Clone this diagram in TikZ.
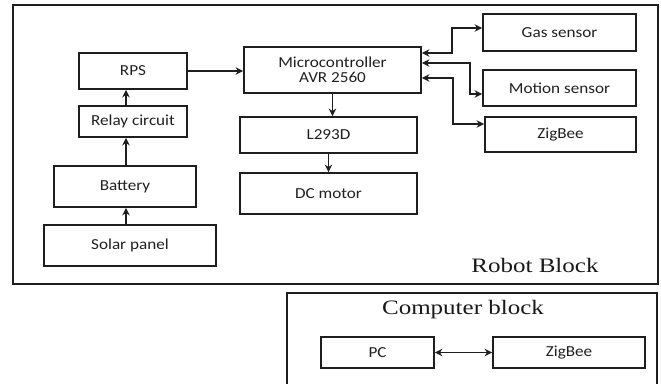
\documentclass[tikz,border=0pt]{standalone}
\usepackage{fontspec}
\usetikzlibrary{arrows.meta}
\newfontfamily\calib{Carlito}[FakeStretch=1.12]
\newfontfamily\tms{Liberation Serif}[FakeStretch=1.22]
\definecolor{ln}{HTML}{1E1E1E}
\definecolor{tx}{HTML}{202020}
\tikzset{
  blk/.style={draw=ln, line width=1.8pt, rectangle, inner sep=0pt, align=center,
    text=tx, font=\calib\fontsize{15.3}{16}\selectfont},
  frame/.style={draw=ln, line width=1.9pt},
  arr/.style={draw=ln, line width=1.8pt, -{Stealth[length=7.5pt,width=7.5pt]}},
  darr/.style={draw=ln, line width=1.8pt, {Stealth[length=7.5pt,width=7.5pt]}-{Stealth[length=7.5pt,width=7.5pt]}},
  title/.style={text=black!90, font=\tms\fontsize{20.5}{22}\selectfont, inner sep=0pt}
}
\begin{document}
\begin{tikzpicture}[x=1pt,y=-1pt]
\useasboundingbox (0,0) rectangle (661,383);
\clip (0,0) rectangle (661,383);
% frames
\draw[frame] (13,5) rectangle (658,284);
\draw[frame] (287,293) rectangle (657,400);
\node[title] (robot) at (535,265) {Robot Block};
\node[title] (comp) at (463,310) {Computer block};
% left chain
\node[blk, minimum width=108pt, minimum height=36pt] (rps) at (133,71) {RPS};
\node[blk, minimum width=108pt, minimum height=31pt] (relay) at (133,121.5) {Relay circuit};
\node[blk, minimum width=142pt, minimum height=41pt] (battery) at (125,186.5) {Battery};
\node[blk, minimum width=172pt, minimum height=41pt] (solar) at (130,245.5) {Solar panel};
% middle
\node[blk, minimum width=177pt, minimum height=46pt] (mcu) at (332.5,70) {Microcontroller\\[-1pt]AVR 2560};
\node[blk, minimum width=177pt, minimum height=36pt] (l293) at (328.5,135) {L293D};
\node[blk, minimum width=177pt, minimum height=41pt] (dc) at (328.5,193.5) {DC motor};
% right
\node[blk, minimum width=153pt, minimum height=37pt] (gas) at (559.5,32.5) {Gas sensor};
\node[blk, minimum width=153pt, minimum height=36pt] (motion) at (559.5,88) {Motion sensor};
\node[blk, minimum width=151pt, minimum height=35pt] (zig) at (560.5,134.5) {ZigBee};
% computer block
\node[blk, minimum width=113pt, minimum height=31pt] (pc) at (377.5,352.5) {PC};
\node[blk, minimum width=152pt, minimum height=31pt] (zig2) at (569,352.5) {ZigBee};
% connectors
\coordinate (ax) at (126,0);
\draw[arr] (solar.north -| ax) -- (battery.south -| ax);
\draw[arr] (battery.north -| ax) -- (relay.south -| ax);
\draw[arr] (relay.north -| ax) -- (rps.south -| ax);
\draw[arr] (rps.east) -- (rps.east -| mcu.west);
\draw[arr] (mcu.south) -- (mcu.south |- l293.north);
\draw[arr] (l293.south) -- (dc.north);
\coordinate (g1) at (0,53);
\coordinate (g2) at (452,28);
\draw[darr] (mcu.east |- g1) -- (g2 |- g1) -- (g2) -- (gas.west |- g2);
\coordinate (m1) at (0,63);
\coordinate (m2) at (470,94);
\draw[darr] (mcu.east |- m1) -- (m2 |- m1) -- (m2) -- (motion.west |- m2);
\coordinate (z1) at (0,78);
\coordinate (z2) at (453,124);
\draw[darr] (mcu.east |- z1) -- (z2 |- z1) -- (z2) -- (zig.west |- z2);
\draw[darr] (pc.east) -- (zig2.west);
\end{tikzpicture}
\end{document}
